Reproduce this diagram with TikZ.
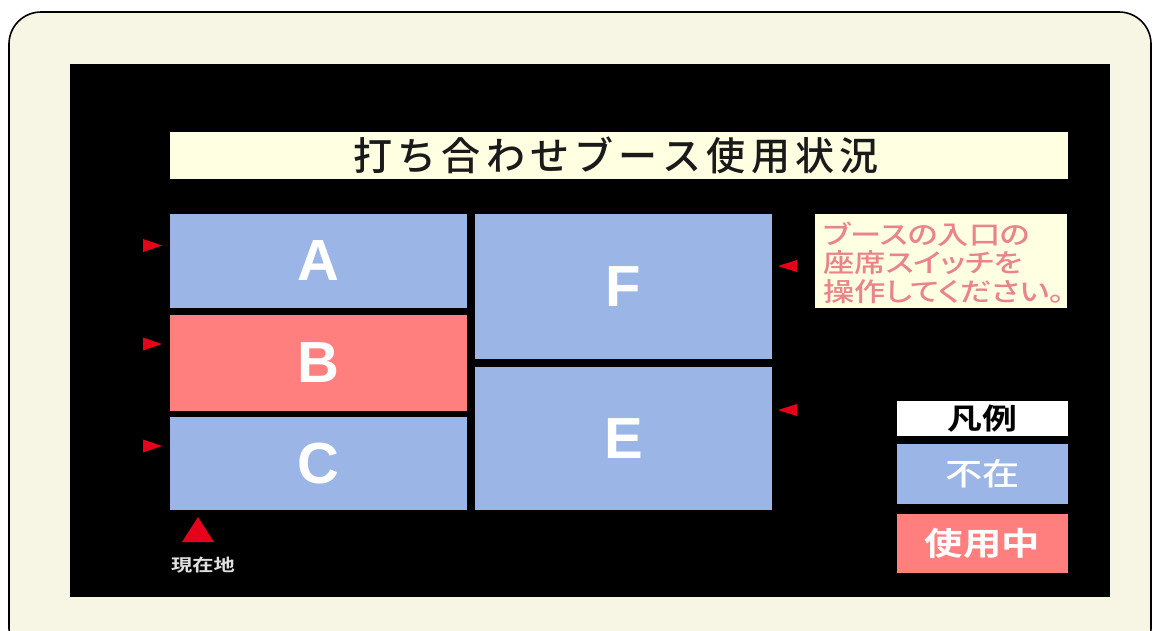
\documentclass[tikz,border=0pt]{standalone}
\usepackage{fontspec}
\setmainfont{Liberation Sans}
\newfontfamily\jp[BoldFont={Noto Sans CJK JP Bold}]{Noto Sans CJK JP}
\newfontfamily\jpm{Noto Sans CJK JP Medium}
\definecolor{framebg}{HTML}{F7F5E3}
\definecolor{boothblue}{HTML}{9BB5E6}
\definecolor{boothred}{HTML}{FF7F7F}
\definecolor{titlebg}{HTML}{FFFFE2}
\definecolor{notetext}{HTML}{E8848A}
\definecolor{mark}{HTML}{E8001A}
\definecolor{titletextc}{HTML}{1A1A1A}
\tikzset{
  booth/.style={draw=none, inner sep=0pt, text=white, font=\fontsize{58}{58}\selectfont\bfseries},
  legendbox/.style={draw=none, inner sep=0pt, minimum width=171pt},
  pointer/.style={fill=mark, draw=none},
}
\begin{document}
\begin{tikzpicture}[x=1pt,y=-1pt]
\useasboundingbox (0,0) rectangle (1155,630);
\fill[white] (0,0) rectangle (1155,630);
\begin{scope}
\clip (0,0) rectangle (1155,630);
\draw[line width=1.6pt, fill=framebg, rounded corners=32pt] (9,12) rectangle (1151,660);
\end{scope}
% screen
\fill[black] (70,64) rectangle (1110,597);
% title
\node[fill=titlebg, inner sep=0pt, minimum width=898pt, minimum height=47pt] (title) at (619,155) {};
\node[inner sep=0pt, text=titletextc, font=\jpm\fontsize{39}{39}\selectfont] (titletext) at (616,155)
  {\makebox[525pt][s]{打\hfill ち\hfill 合\hfill わ\hfill せ\hfill ブ\hfill ー\hfill ス\hfill 使\hfill 用\hfill 状\hfill 況}};
% booths
\node[booth, fill=boothblue, minimum width=297pt, minimum height=94pt] (A) at (318.5,261) {A};
\node[booth, fill=boothred, minimum width=297pt, minimum height=96pt] (B) at (318.5,363) {B};
\node[booth, fill=boothblue, minimum width=297pt, minimum height=93pt] (C) at (318.5,463.5) {C};
\node[booth, fill=boothblue, minimum width=297pt, minimum height=145pt] (F) at (623.5,286.5) {F};
\node[booth, fill=boothblue, minimum width=297pt, minimum height=143pt] (E) at (623.5,438.5) {E};
% entrance pointers
\foreach \yy in {245.5,344,446} {
  \fill[pointer] (143,\yy-6.5) -- (162,\yy) -- (143,\yy+6.5) -- cycle;
}
\foreach \yy in {266,410} {
  \fill[pointer] (797,\yy-6) -- (778,\yy) -- (797,\yy+6) -- cycle;
}
% note
\node[fill=titlebg, inner sep=0pt, minimum width=252pt, minimum height=94pt] (note) at (941,261) {};
\node[anchor=west, inner sep=0pt, align=left, text=notetext,
      font=\jpm\addfontfeature{FakeStretch=1.2,RawFeature=+palt}\fontsize{26}{28.5}\selectfont] (notetext) at (823,262.5)
  {ブースの入口の\\座席スイッチを\\操作してください。};
% legend
\node[legendbox, fill=white, minimum height=35pt, text=black, font=\jp\bfseries\addfontfeature{FakeStretch=1.2}\fontsize{29}{29}\selectfont] (legend) at (982.5,418.5) {凡例};
\node[legendbox, fill=boothblue, minimum height=60pt, text=white, font=\jpm\addfontfeature{FakeStretch=1.2}\fontsize{31}{31}\selectfont] (absent) at (982.5,474) {不在};
\node[legendbox, fill=boothred, minimum height=59pt, text=white, font=\jp\bfseries\addfontfeature{FakeStretch=1.2}\fontsize{32}{32}\selectfont] (inuse) at (982.5,543.5) {使用中};
% current location
\coordinate (here) at (198,530);
\fill[pointer] (182,542) -- (198,517) -- (214,542) -- cycle;
\node[inner sep=0pt, text=white!88!black, font=\jp\bfseries\addfontfeature{FakeStretch=1.25}\fontsize{17}{17}\selectfont] (heretext) at (203,565) {現在地};
\end{tikzpicture}
\end{document}
